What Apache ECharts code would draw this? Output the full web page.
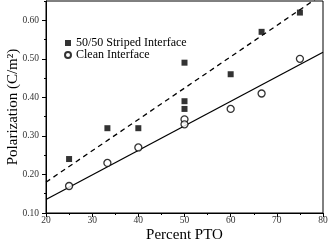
<!DOCTYPE html>
<html><head><meta charset="utf-8">
<script src="https://cdn.jsdelivr.net/npm/echarts@6/dist/echarts.min.js"></script>
<style>html,body{margin:0;padding:0;background:#fff}#c{width:329px;height:242px}</style>
</head><body><div id="c"></div>
<script>
const stripedX = [25, 33.3, 40, 50, 50, 50, 60, 66.7, 75];
const stripedY = [0.24, 0.32, 0.32, 0.49, 0.39, 0.37, 0.46, 0.57, 0.62];
const cleanX = [25, 33.3, 40, 50, 50, 60, 66.7, 75];
const cleanY = [0.17, 0.23, 0.27, 0.343, 0.33, 0.37, 0.41, 0.50];
const stripedFitX = [20, 80];
const stripedFitY = [0.18, 0.668];
const cleanFitX = [20, 80];
const cleanFitY = [0.135, 0.517];
const xTicks = [20, 30, 40, 50, 60, 70, 80];
const yTicks = [0.10, 0.20, 0.30, 0.40, 0.50, 0.60];

const zip = (a, b) => a.map((v, i) => [v, b[i]]);
const font = 'Liberation Serif';
const chart = echarts.init(document.getElementById('c'));
chart.setOption({
  animation: false,
  grid: {left: 46, right: 6, top: 1, bottom: 29, show: true, borderColor: '#000', borderWidth: 1,
         containLabel: false, outerBoundsMode: 'none'},
  legend: {
    orient: 'vertical', left: 64, top: 37, padding: 0, itemGap: 0, itemWidth: 6, itemHeight: 6,
    textStyle: {fontFamily: font, fontSize: 12, color: '#000', lineHeight: 11},
    data: ['50/50 Striped Interface', 'Clean Interface']
  },
  xAxis: {
    type: 'value', min: 20, max: 80, interval: 10,
    name: 'Percent PTO', nameLocation: 'middle', nameGap: 15, nameMoveOverlap: false,
    nameTextStyle: {fontFamily: font, fontSize: 15, color: '#000'},
    axisLine: {lineStyle: {color: '#000'}},
    axisTick: {length: 4, lineStyle: {color: '#000'}},
    minorTick: {show: true, splitNumber: 2, length: 2, lineStyle: {color: '#000'}},
    axisLabel: {fontFamily: font, fontSize: 9.5, color: '#333', margin: 2, customValues: xTicks},
    splitLine: {show: false}
  },
  yAxis: {
    type: 'value', min: 0.10, max: 0.65, interval: 0.1,
    name: 'Polarization (C/m²)', nameLocation: 'middle', nameGap: 25, nameMoveOverlap: false,
    nameTextStyle: {fontFamily: font, fontSize: 15, color: '#000'},
    axisLine: {lineStyle: {color: '#000'}},
    axisTick: {length: 4, lineStyle: {color: '#000'}, customValues: yTicks},
    minorTick: {show: true, splitNumber: 2, length: 2, lineStyle: {color: '#000'}},
    axisLabel: {fontFamily: font, fontSize: 9.5, color: '#333', margin: 7, customValues: yTicks,
      formatter: v => v.toFixed(2)},
    splitLine: {show: false}
  },
  series: [
    {name: '50/50 Striped Interface', type: 'scatter', symbol: 'rect', symbolSize: 6,
     itemStyle: {color: '#000'}, data: zip(stripedX, stripedY), z: 3},
    {name: 'Clean Interface', type: 'scatter', symbol: 'circle', symbolSize: 7,
     itemStyle: {color: '#fff', borderColor: '#000', borderWidth: 1.3}, data: zip(cleanX, cleanY), z: 3},
    {type: 'line', symbol: 'none', clip: true, lineStyle: {color: '#000', width: 1.3, type: [5, 4]},
     data: zip(stripedFitX, stripedFitY), z: 2},
    {type: 'line', symbol: 'none', clip: true, lineStyle: {color: '#000', width: 1.3},
     data: zip(cleanFitX, cleanFitY), z: 2}
  ]
});
</script></body></html>
